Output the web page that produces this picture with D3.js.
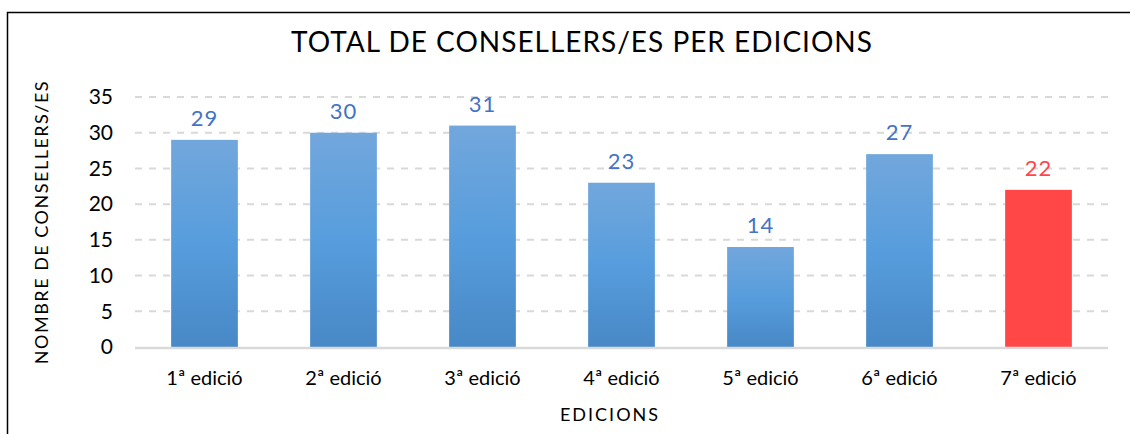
<!DOCTYPE html>
<html>
<head>
<meta charset="utf-8">
<script src="https://cdn.jsdelivr.net/npm/d3@7"></script>
<style>
  body { margin: 0; background: #fff; }
  svg text { font-family: "Ink Free", "Segoe Print", "Comic Sans MS", Lato, "DejaVu Sans", sans-serif; }
</style>
</head>
<body>
<svg id="chart"></svg>
<script>
const width = 1130, height = 434;

// data
const editions = ["1ª edició", "2ª edició", "3ª edició", "4ª edició", "5ª edició", "6ª edició", "7ª edició"];
const counts = [29, 30, 31, 23, 14, 27, 22];
const yTicks = [0, 5, 10, 15, 20, 25, 30, 35];

const margin = { left: 135, right: 22, top: 97, bottom: 87 };

const svg = d3.select("#chart")
    .attr("width", width)
    .attr("height", height);

// frame (only top and left visible in the reference)
svg.append("path")
    .attr("d", `M7.5,${height} V12.5 H${width}`)
    .attr("fill", "none")
    .attr("stroke", "#000")
    .attr("stroke-width", 1.5);

// gradient for blue bars
const defs = svg.append("defs");
const grad = defs.append("linearGradient")
    .attr("id", "blueGrad")
    .attr("x1", 0).attr("y1", 0).attr("x2", 0).attr("y2", 1);
grad.append("stop").attr("offset", "0%").attr("stop-color", "#72a7dc");
grad.append("stop").attr("offset", "50%").attr("stop-color", "#579ddd");
grad.append("stop").attr("offset", "100%").attr("stop-color", "#4888c6");

const x = d3.scaleBand()
    .domain(editions)
    .range([margin.left, width - margin.right])
    .paddingInner(0.52)
    .paddingOuter(0.26);

const y = d3.scaleLinear()
    .domain([0, 35])
    .range([height - margin.bottom, margin.top]);

// gridlines
svg.append("g")
    .selectAll("line")
    .data(yTicks.filter(d => d > 0))
    .join("line")
    .attr("x1", margin.left)
    .attr("x2", width - margin.right)
    .attr("y1", d => y(d))
    .attr("y2", d => y(d))
    .attr("stroke", "#d9d9d9")
    .attr("stroke-width", 2)
    .attr("stroke-dasharray", "7,7");

// y tick labels
svg.append("g")
    .selectAll("text")
    .data(yTicks)
    .join("text")
    .attr("x", 113)
    .attr("y", d => y(d))
    .attr("dy", "0.35em")
    .attr("text-anchor", "end")
    .attr("font-size", 21)
    .attr("fill", "#000")
    .text(d => d);

// bars
svg.append("g")
    .selectAll("rect")
    .data(editions)
    .join("rect")
    .attr("x", d => x(d))
    .attr("y", (d, i) => y(counts[i]))
    .attr("width", x.bandwidth())
    .attr("height", (d, i) => y(0) - y(counts[i]))
    .attr("fill", (d, i) => i === editions.length - 1 ? "#ff4747" : "url(#blueGrad)");

// baseline
svg.append("line")
    .attr("x1", margin.left)
    .attr("x2", width - margin.right)
    .attr("y1", y(0) + 1)
    .attr("y2", y(0) + 1)
    .attr("stroke", "#d9d9d9")
    .attr("stroke-width", 2.5);

// value labels
svg.append("g")
    .selectAll("text")
    .data(editions)
    .join("text")
    .attr("x", d => x(d) + x.bandwidth() / 2)
    .attr("y", (d, i) => y(counts[i]) - 14)
    .attr("text-anchor", "middle")
    .attr("font-size", 22)
    .attr("letter-spacing", 1)
    .attr("fill", (d, i) => i === editions.length - 1 ? "#ff4747" : "#4472c4")
    .text((d, i) => counts[i]);

// x labels
svg.append("g")
    .selectAll("text")
    .data(editions)
    .join("text")
    .attr("x", d => x(d) + x.bandwidth() / 2)
    .attr("y", 385)
    .attr("text-anchor", "middle")
    .attr("font-size", 20)
    .attr("fill", "#000")
    .text(d => d);

// title
svg.append("text")
    .attr("x", 582)
    .attr("y", 52)
    .attr("text-anchor", "middle")
    .attr("font-size", 28)
    .attr("letter-spacing", 1)
    .attr("fill", "#000")
    .text("TOTAL DE CONSELLERS/ES PER EDICIONS");

// axis titles
svg.append("text")
    .attr("x", 610)
    .attr("y", 421)
    .attr("text-anchor", "middle")
    .attr("font-size", 18)
    .attr("letter-spacing", 2)
    .attr("fill", "#000")
    .text("EDICIONS");

svg.append("text")
    .attr("transform", "translate(48,222) rotate(-90)")
    .attr("text-anchor", "middle")
    .attr("font-size", 18)
    .attr("letter-spacing", 1.5)
    .attr("fill", "#000")
    .text("NOMBRE DE CONSELLERS/ES");
</script>
</body>
</html>
